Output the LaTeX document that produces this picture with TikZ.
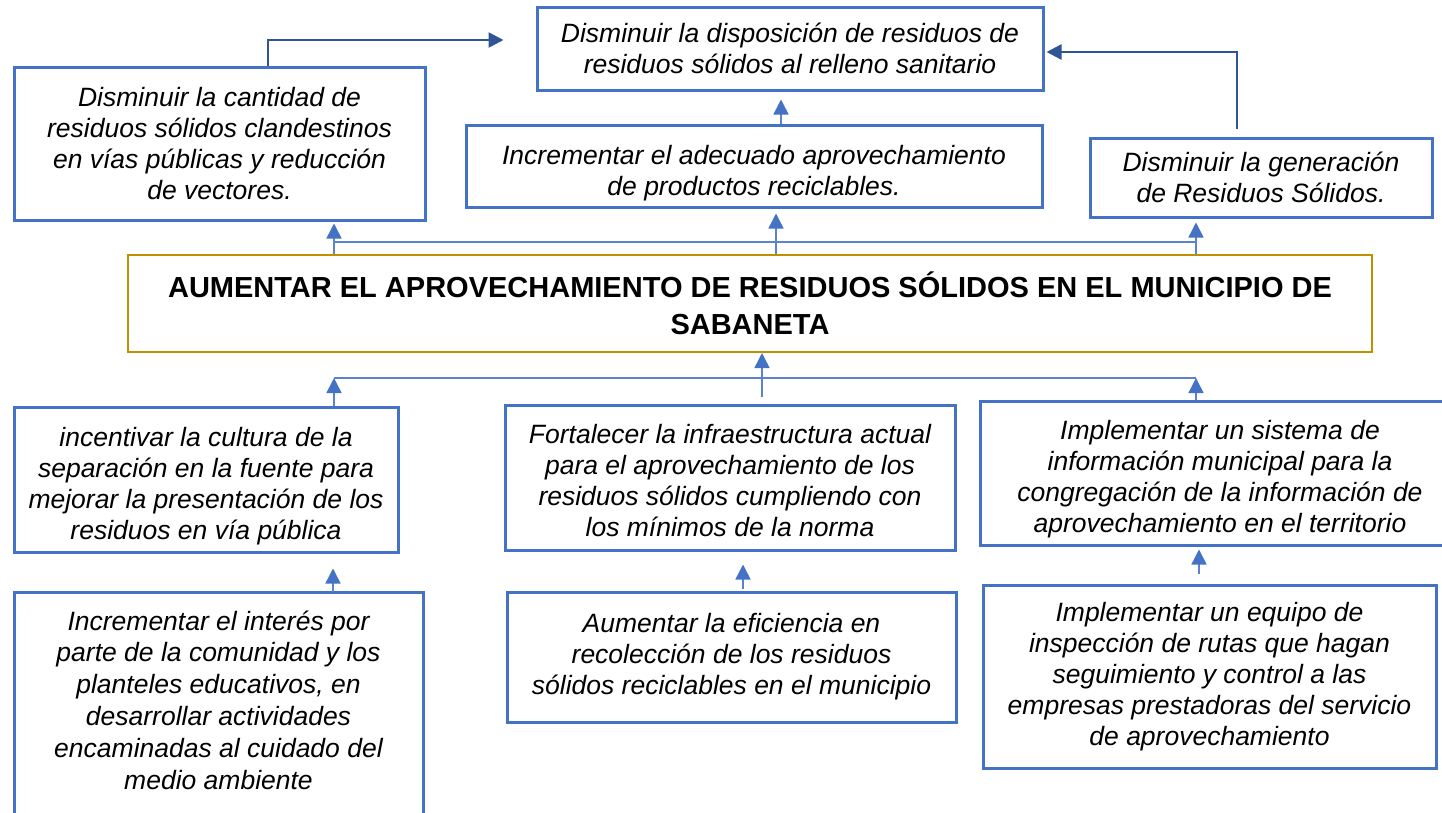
\documentclass[tikz,border=0pt]{standalone}
\usepackage{fontspec}
\setmainfont{Liberation Sans}
\usetikzlibrary{arrows.meta,calc}
\definecolor{bblue}{HTML}{4472C4}
\definecolor{lblue}{HTML}{5B83CC}
\definecolor{dblue}{HTML}{2F5597}
\definecolor{gold}{HTML}{BF9000}
\begin{document}
\begin{tikzpicture}[x=1pt,y=-1pt,
  box/.style={draw=bblue, line width=3pt, align=center, inner sep=0pt,
    font=\fontsize{26.5}{31}\selectfont\itshape},
  txt/.style={align=center, inner sep=0pt, font=\fontsize{26.5}{31}\selectfont\itshape},
  boxline/.style={draw=bblue, line width=3pt},
  mainbox/.style={draw=gold, line width=2pt, align=center, inner sep=0pt,
    font=\fontsize{29}{37}\selectfont\bfseries},
  conn/.style={draw=lblue, line width=1.5pt, -{Triangle[width=15pt,length=15pt,color=bblue]}},
  hline/.style={draw=lblue, line width=1.5pt},
  dconn/.style={draw=dblue, line width=2.5pt, -{Triangle[width=15pt,length=15pt]}}]
\useasboundingbox (0,0) rectangle (1442,812);
\fill[white] (0,0) rectangle (1442,812);

% top row
\node[box, minimum width=506pt, minimum height=83pt] (T) at (790,48.5)
  {Disminuir la disposición de residuos de\\residuos sólidos al relleno sanitario};
\node[box, minimum width=411pt, minimum height=153pt] (L1) at (219.5,143.5)
  {Disminuir la cantidad de\\residuos sólidos clandestinos\\en vías públicas y reducción\\de vectores.};
\node[box, minimum width=576pt, minimum height=82pt] (M1) at (754,166) {};
\node[txt] (M1t) at ([yshift=-7pt]M1.center)
  {Incrementar el adecuado aprovechamiento\\de productos reciclables.};
\node[box, minimum width=342pt, minimum height=79pt] (R1) at (1261,177.5)
  {Disminuir la generación\\de Residuos Sólidos.};

% main
\node[mainbox, minimum width=1244pt, minimum height=97pt] (Main) at (750,303.5)
  {AUMENTAR EL APROVECHAMIENTO DE RESIDUOS SÓLIDOS EN EL MUNICIPIO DE\\SABANETA};

% row 1 below
\node[box, minimum width=384pt, minimum height=145pt] (B1) at (206,479.5) {};
\node[txt] (B1t) at ([yshift=-7pt]B1.center)
  {incentivar la cultura de la\\separación en la fuente para\\mejorar la presentación de los\\residuos en vía pública};
\node[box, minimum width=450pt, minimum height=145pt] (B2) at (730,477.5) {};
\node[txt] (B2t) at ([yshift=-3pt]B2.center)
  {Fortalecer la infraestructura actual\\para el aprovechamiento de los\\residuos sólidos cumpliendo con\\los mínimos de la norma};
\node[box, minimum width=480pt, minimum height=144pt] (B3) at (1220,473) {};
\node[txt] (B3t) at ([yshift=-6pt]B3.center)
  {Implementar un sistema de\\información municipal para la\\congregación de la información de\\aprovechamiento en el territorio};

% row 2
\node[txt, font=\fontsize{26.5}{31.8}\selectfont\itshape] (C1) at (218.5,700)
  {Incrementar el interés por\\parte de la comunidad y los\\planteles educativos, en\\desarrollar actividades\\encaminadas al cuidado del\\medio ambiente};
\draw[boxline] (14,830) |- (423,592) -- (423,830);
\coordinate (c1top) at (333,592);
\node[box, minimum width=449pt, minimum height=130pt] (C2) at (731.5,657)
  {Aumentar la eficiencia en\\recolección de los residuos\\sólidos reciclables en el municipio};
\node[box, minimum width=453pt, minimum height=183pt] (C3) at (1209.5,676.5)
  {Implementar un equipo de\\inspección de rutas que hagan\\seguimiento y control a las\\empresas prestadoras del servicio\\de aprovechamiento};

% dark connectors to top box
\draw[dconn] ([xshift=48.5pt]L1.north) |- ([xshift=-32pt,yshift=8.5pt]T.west);
\draw[dconn] ([xshift=-24pt,yshift=8pt]R1.north) |- ([xshift=2pt,yshift=-3.5pt]T.east);

% M1 -> T
\coordinate (m1a) at ([xshift=27pt]M1.north);
\draw[conn, shorten >=8pt] (m1a) -- (m1a |- T.south);

% main -> top row
\coordinate (ul) at ([xshift=-416pt]Main.north);
\coordinate (um) at ([xshift=26pt]Main.north);
\coordinate (ur) at ([xshift=446pt]Main.north);
\draw[hline] ([yshift=12pt]ul) -- ([yshift=12pt]ur);
\draw[conn, shorten >=2pt] (ul) -- (ul |- L1.south);
\draw[conn, shorten >=5pt] (um) -- (um |- M1.south);
\draw[conn, shorten >=4pt] (ur) -- (ur |- R1.south);

% row 1 -> main
\coordinate (dl) at ([xshift=-416pt,yshift=-25pt]Main.south);
\coordinate (dr) at ([xshift=446pt,yshift=-25pt]Main.south);
\draw[hline] (dl) -- (dr);
\draw[conn] (dl |- B1.north) -- (dl);
\draw[conn] (dr |- B3.north) -- (dr);
\coordinate (b2a) at ([xshift=32pt,yshift=7pt]B2.north);
\draw[conn] (b2a) -- (b2a |- Main.south);

% row 2 -> row 1
\draw[conn, shorten >=15pt] (c1top) -- (c1top |- B1.south);
\coordinate (c2a) at ([xshift=11.5pt,yshift=2pt]C2.north);
\draw[conn, shorten >=13pt] (c2a) -- (c2a |- B2.south);
\coordinate (c3a) at ([xshift=-10.5pt,yshift=10pt]C3.north);
\draw[conn, shorten >=3pt] (c3a) -- (c3a |- B3.south);
\end{tikzpicture}
\end{document}
